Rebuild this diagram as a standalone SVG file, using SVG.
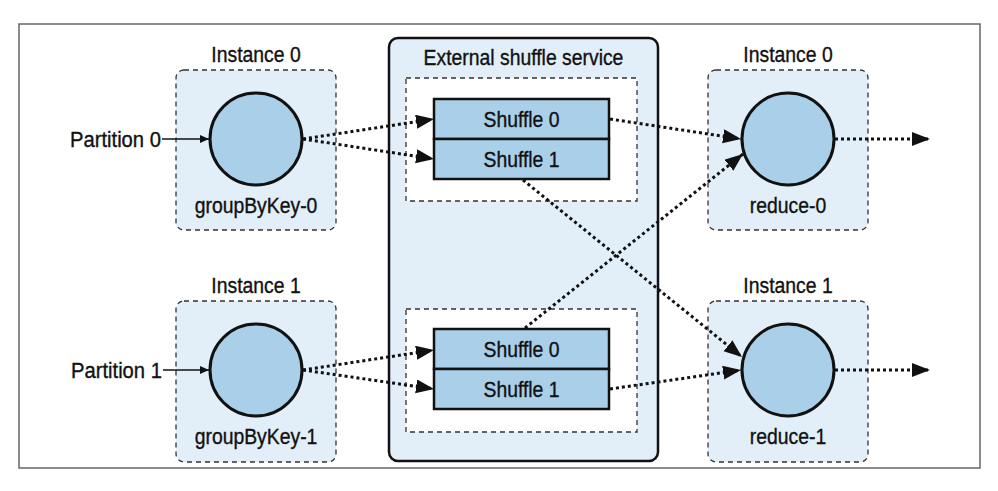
<svg xmlns="http://www.w3.org/2000/svg" width="998" height="491" viewBox="0 0 998 491">
<defs>
<style>
text{font-family:"Liberation Sans",Arial,sans-serif;font-size:22px;fill:#111;stroke:#111;stroke-width:0.35;text-anchor:middle}
.end{text-anchor:end}
.inst{fill:#e2eef8;stroke:#333;stroke-width:1.3;stroke-dasharray:5 4}
.inner{fill:#fff;stroke:#333;stroke-width:1.3;stroke-dasharray:5 4}
.circ{fill:#aacfe9;stroke:#111;stroke-width:3}
.cell{fill:#aacfe9;stroke:#111;stroke-width:2.5}
.dot{fill:none;stroke:#111;stroke-width:3;stroke-dasharray:3 3;marker-end:url(#big)}
.thin{fill:none;stroke:#111;stroke-width:1.3;marker-end:url(#small)}
</style>
<marker id="big" markerUnits="userSpaceOnUse" markerWidth="20" markerHeight="16" refX="18" refY="7" orient="auto" viewBox="0 0 20 16">
<path d="M0,0 L18,7 L0,14 Z" fill="#111"/>
</marker>
<marker id="small" markerUnits="userSpaceOnUse" markerWidth="10" markerHeight="10" refX="9" refY="4" orient="auto" viewBox="0 0 10 10">
<path d="M0,0 L9,4 L0,8 Z" fill="#111"/>
</marker>
</defs>
<rect x="19" y="24" width="961" height="444" fill="#fff" stroke="#666" stroke-width="1.5"/>

<g id="ess">
<rect x="389" y="38" width="269" height="423" rx="9" fill="#e2eef8" stroke="#111" stroke-width="2.5"/>
<text transform="translate(523.5,65) scale(0.88,1)">External shuffle service</text>
</g>

<g id="shuffle-top">
<rect class="inner" x="406" y="78" width="231" height="123"/>
<rect class="cell" x="434" y="99" width="175" height="40"/>
<rect class="cell" x="434" y="139" width="175" height="40"/>
<text transform="translate(521.5,127) scale(0.88,1)">Shuffle 0</text>
<text transform="translate(521.5,167) scale(0.88,1)">Shuffle 1</text>
</g>

<g id="shuffle-bottom">
<rect class="inner" x="406" y="309" width="231" height="123"/>
<rect class="cell" x="434" y="329" width="175" height="40"/>
<rect class="cell" x="434" y="369" width="175" height="40"/>
<text transform="translate(521.5,357) scale(0.88,1)">Shuffle 0</text>
<text transform="translate(521.5,397) scale(0.88,1)">Shuffle 1</text>
</g>

<g id="groupByKey-0">
<text transform="translate(256,62) scale(0.88,1)">Instance 0</text>
<rect class="inst" x="176" y="70" width="160" height="160" rx="8"/>
<circle class="circ" cx="256" cy="139" r="46"/>
<text transform="translate(256,213) scale(0.88,1)">groupByKey-0</text>
</g>

<g id="groupByKey-1">
<text transform="translate(256,293) scale(0.88,1)">Instance 1</text>
<rect class="inst" x="176" y="301" width="160" height="161" rx="8"/>
<circle class="circ" cx="256" cy="370" r="46"/>
<text transform="translate(256,444) scale(0.88,1)">groupByKey-1</text>
</g>

<g id="reduce-0">
<text transform="translate(788,62) scale(0.88,1)">Instance 0</text>
<rect class="inst" x="708" y="70" width="160" height="160" rx="8"/>
<circle class="circ" cx="788" cy="139" r="46"/>
<text transform="translate(788,213) scale(0.88,1)">reduce-0</text>
</g>

<g id="reduce-1">
<text transform="translate(788,293) scale(0.88,1)">Instance 1</text>
<rect class="inst" x="708" y="301" width="160" height="161" rx="8"/>
<circle class="circ" cx="788" cy="370" r="46"/>
<text transform="translate(788,444) scale(0.88,1)">reduce-1</text>
</g>

<g id="partition-0"><text class="end" transform="translate(161,147) scale(0.92,1)">Partition 0</text></g>
<g id="partition-1"><text class="end" transform="translate(162,378) scale(0.92,1)">Partition 1</text></g>

<g id="connectors">
<line class="thin" x1="162" y1="139" x2="209" y2="139"/>
<line class="thin" x1="163" y1="370" x2="209" y2="370"/>
<line class="dot" x1="303" y1="139" x2="434" y2="119"/>
<line class="dot" x1="303" y1="139" x2="434" y2="159"/>
<line class="dot" x1="303" y1="370" x2="434" y2="350"/>
<line class="dot" x1="303" y1="370" x2="434" y2="389"/>
<line class="dot" x1="610" y1="119" x2="741" y2="139"/>
<line class="dot" x1="610" y1="389" x2="741" y2="370"/>
<line class="dot" x1="523" y1="180" x2="742" y2="357"/>
<line class="dot" x1="525" y1="328" x2="743" y2="154"/>
<line class="dot" x1="835" y1="139" x2="930" y2="139"/>
<line class="dot" x1="835" y1="370" x2="930" y2="370"/>
</g>
</svg>
